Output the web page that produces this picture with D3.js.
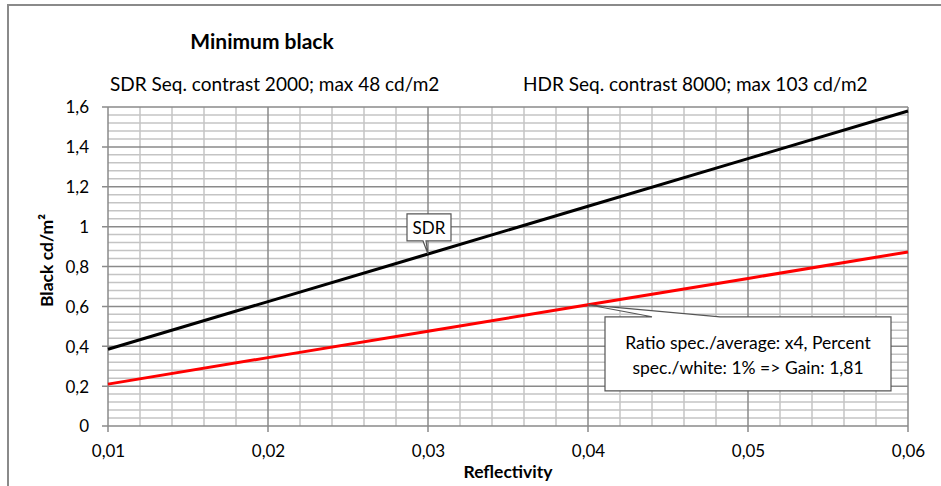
<!DOCTYPE html>
<html>
<head>
<meta charset="utf-8">
<script src="https://cdn.jsdelivr.net/npm/d3@7"></script>
<style>
  body { margin: 0; background: #fff; }
  text { font-family: Lato, "Open Sans", sans-serif; fill: #000; }
</style>
</head>
<body>
<script>
// data
const reflectivity = [0.01, 0.02, 0.03, 0.04, 0.05, 0.06]
const sdrBlack = [0.385, 0.624, 0.863, 1.102, 1.341, 1.580]
const hdrBlack = [0.210, 0.343, 0.475, 0.608, 0.740, 0.873]
const yTicks = [0, 0.2, 0.4, 0.6, 0.8, 1, 1.2, 1.4, 1.6]
const xTicks = [0.01, 0.02, 0.03, 0.04, 0.05, 0.06]

const w = 941
const h = 486
const plotLeft = 108
const plotRight = 908
const plotTop = 107
const plotBottom = 426

const svg = d3.select('body').append('svg')
    .attr('width', w)
    .attr('height', h)

// outer frame (top and left edges visible)
svg.append('path')
    .attr('d', `M8,${h} L8,5 L${w},5`)
    .attr('fill', 'none')
    .attr('stroke', '#8a8a8a')
    .attr('stroke-width', 2)

const x = d3.scaleLinear().domain([0.01, 0.06]).range([plotLeft, plotRight])
const y = d3.scaleLinear().domain([0, 1.6]).range([plotBottom, plotTop])

const comma = (v, digits) => v.toFixed(digits).replace('.', ',')

// minor grid
const grid = svg.append('g')
grid.selectAll('.hminor')
    .data(d3.range(0, 41).map(i => i * 0.04).filter(v => Math.abs(v / 0.2 - Math.round(v / 0.2)) > 1e-6))
    .enter().append('line')
    .attr('x1', plotLeft).attr('x2', plotRight)
    .attr('y1', d => y(d)).attr('y2', d => y(d))
    .attr('stroke', '#c4c4c4').attr('stroke-width', 1.5)

grid.selectAll('.vminor')
    .data(d3.range(0, 26).map(i => 0.01 + i * 0.002).filter(v => Math.abs(v / 0.01 - Math.round(v / 0.01)) > 1e-6))
    .enter().append('line')
    .attr('y1', plotTop).attr('y2', plotBottom)
    .attr('x1', d => x(d)).attr('x2', d => x(d))
    .attr('stroke', '#c4c4c4').attr('stroke-width', 1.5)

// major grid
grid.selectAll('.hmajor')
    .data(yTicks)
    .enter().append('line')
    .attr('x1', plotLeft - 6).attr('x2', plotRight)
    .attr('y1', d => y(d)).attr('y2', d => y(d))
    .attr('stroke', '#8a8a8a').attr('stroke-width', 1.5)

grid.selectAll('.vmajor')
    .data(xTicks)
    .enter().append('line')
    .attr('y1', plotTop).attr('y2', plotBottom + 6)
    .attr('x1', d => x(d)).attr('x2', d => x(d))
    .attr('stroke', '#8a8a8a').attr('stroke-width', 1.5)

// axes labels
const yAxis = d3.axisLeft(y).tickValues(yTicks).tickSize(0).tickPadding(19)
    .tickFormat(d => String(+d.toFixed(1)).replace('.', ','))
svg.append('g')
    .attr('transform', `translate(${plotLeft},0)`)
    .call(yAxis)
    .call(g => g.select('.domain').remove())
    .selectAll('text')
    .style('font-size', '17px')
    .attr('dy', '0.35em')

const xAxis = d3.axisBottom(x).tickValues(xTicks).tickSize(0).tickPadding(19)
    .tickFormat(d => comma(d, 2))
svg.append('g')
    .attr('transform', `translate(0,${plotBottom})`)
    .call(xAxis)
    .call(g => g.select('.domain').remove())
    .selectAll('text')
    .style('font-size', '17px')

// series
const line = d3.line()
    .x((d, i) => x(reflectivity[i]))
    .y(d => y(d))

svg.append('path')
    .datum(hdrBlack)
    .attr('d', line)
    .attr('fill', 'none')
    .attr('stroke', '#ff0000')
    .attr('stroke-width', 3)

svg.append('path')
    .datum(sdrBlack)
    .attr('d', line)
    .attr('fill', 'none')
    .attr('stroke', '#000')
    .attr('stroke-width', 3)

// callouts
const sdrAx = x(reflectivity[2]), sdrAy = y(sdrBlack[2])
svg.append('path')
    .attr('d', `M${sdrAx - 21},${sdrAy - 40} H${sdrAx + 23} V${sdrAy - 13} H${sdrAx - 2} L${sdrAx},${sdrAy} L${sdrAx - 5},${sdrAy - 13} H${sdrAx - 21} Z`)
    .attr('fill', '#fff').attr('stroke', '#555').attr('stroke-width', 1.2)
svg.append('text')
    .attr('x', sdrAx + 1).attr('y', sdrAy - 20)
    .attr('text-anchor', 'middle')
    .style('font-size', '17px')
    .text('SDR')

const hdrAx = x(reflectivity[3]), hdrAy = y(hdrBlack[3])
svg.append('path')
    .attr('d', `M${hdrAx + 17},${hdrAy + 12} H${hdrAx + 64} L${hdrAx},${hdrAy} L${hdrAx + 132},${hdrAy + 12} H${hdrAx + 303} V${hdrAy + 86} H${hdrAx + 17} Z`)
    .attr('fill', '#fff').attr('stroke', '#555').attr('stroke-width', 1.2)
svg.append('text')
    .attr('x', hdrAx + 160).attr('y', hdrAy + 44)
    .attr('text-anchor', 'middle')
    .style('font-size', '17.5px')
    .text('Ratio spec./average: x4, Percent')
svg.append('text')
    .attr('x', hdrAx + 160).attr('y', hdrAy + 69)
    .attr('text-anchor', 'middle')
    .style('font-size', '17.5px')
    .text('spec./white: 1% => Gain: 1,81')

// titles
svg.append('text')
    .attr('x', 262).attr('y', 49)
    .attr('text-anchor', 'middle')
    .style('font-size', '21px').style('font-weight', 'bold')
    .text('Minimum black')

svg.append('text')
    .attr('x', 110).attr('y', 91)
    .style('font-size', '19px')
    .text('SDR Seq. contrast 2000; max 48 cd/m2')

svg.append('text')
    .attr('x', 523).attr('y', 91)
    .style('font-size', '19px')
    .text('HDR Seq. contrast 8000; max 103 cd/m2')

svg.append('text')
    .attr('x', (plotLeft + plotRight) / 2).attr('y', 478)
    .attr('text-anchor', 'middle')
    .style('font-size', '17.5px').style('font-weight', 'bold')
    .text('Reflectivity')

svg.append('text')
    .attr('transform', `translate(53,${(plotTop + plotBottom) / 2 - 6}) rotate(-90)`)
    .attr('text-anchor', 'middle')
    .style('font-size', '17.5px').style('font-weight', 'bold')
    .text('Black cd/m²')
</script>
</body>
</html>
